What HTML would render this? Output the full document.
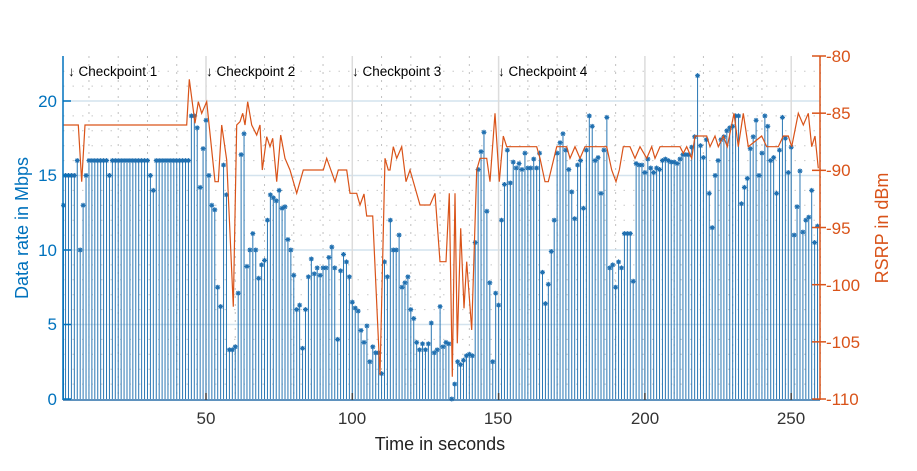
<!DOCTYPE html>
<html><head><meta charset="utf-8"><style>
body{margin:0;background:#fff;}
svg{display:block;font-family:"Liberation Sans",sans-serif;}
</style></head><body>
<svg id="s" width="917" height="471" viewBox="0 0 917 471" xmlns="http://www.w3.org/2000/svg">
<rect x="0" y="0" width="917" height="471" fill="#fff"/>
<g id="grid"></g>
<g id="bars"></g>
<polyline id="rsrp" fill="none" stroke="#d95319" stroke-width="1.2"/>
<g id="axes"></g>
<g font-size="13.5" fill="#000">
<text x="68" y="76">↓ Checkpoint 1</text>
<text x="206" y="76">↓ Checkpoint 2</text>
<text x="352" y="76">↓ Checkpoint 3</text>
<text x="498" y="76">↓ Checkpoint 4</text>
</g>
<g font-size="17" fill="#0072bd" text-anchor="end">
<text x="57" y="405">0</text><text x="57" y="330">5</text><text x="57" y="256">10</text><text x="57" y="181">15</text><text x="57" y="107">20</text>
</g>
<g font-size="17" fill="#333" text-anchor="middle">
<text x="206" y="424">50</text><text x="352" y="424">100</text><text x="498" y="424">150</text><text x="645" y="424">200</text><text x="791" y="424">250</text>
</g>
<g font-size="17" fill="#d95319">
<text x="826" y="62">-80</text><text x="826" y="119">-85</text><text x="826" y="176">-90</text><text x="826" y="234">-95</text><text x="826" y="291">-100</text><text x="826" y="348">-105</text><text x="826" y="405">-110</text>
</g>
<text x="440" y="450" font-size="18" fill="#222" text-anchor="middle">Time in seconds</text>
<text transform="translate(28,228) rotate(-90)" font-size="18" fill="#0072bd" text-anchor="middle">Data rate in Mbps</text>
<text transform="translate(888,228) rotate(-90)" font-size="18" fill="#d95319" text-anchor="middle">RSRP in dBm</text>
</svg>
<script>
var NS="http://www.w3.org/2000/svg";
function el(p,t,a){var e=document.createElementNS(NS,t);for(var k in a)e.setAttribute(k,a[k]);p.appendChild(e);return e;}
function X(t){return 59.7+t*2.926;}
function Y(v){return 399-v*14.9;}
var d=[13,15,15,15,15,16,10,13,15,16,16,16,16,16,16,16,15,16,16,16,16,16,16,16,16,16,16,16,16,16,15,14,16,16,16,16,16,16,16,16,16,16,16,16,19,19,18.2,14.2,16.8,18.7,15,13,12.7,7.5,6.2,15.7,13.7,3.3,3.3,3.5,7.1,16.4,17.8,8.9,10,11.1,10,8.1,9,9.3,12,13.7,13.5,13.3,14,12.8,12.9,10.7,10,8.3,6,6.3,3.4,6,8.2,9.4,8.4,8.8,8.3,8.8,8.8,9.5,10.2,8.8,4,8.6,9.7,9.2,8.2,6.5,6.1,5.9,4.6,3.8,4.9,2.5,3.5,3.1,3.1,1.7,9.2,8.2,12,10,10,11,7.5,7.8,8.2,6,5.4,3.8,3.3,3.7,3.3,3.7,5.1,3.1,3.3,6.2,3.5,3.8,3.7,0,1,2.5,2.3,2.6,2.9,3,2.9,10.5,15.4,16.6,17.9,12.6,7.8,2.5,7.1,6.3,12,14.4,16.7,14.5,15.9,15.5,15.8,15.4,16.5,15.5,15.5,16.1,15.5,16.5,8.5,6.4,7.7,9.9,12,16.5,17.2,17.8,16.7,15.4,13.9,12.1,15.7,16,12.8,16.7,19,18.3,16,16.2,13.8,16.7,18.9,8.8,9,7.5,9.2,8.8,11.1,11.1,11.1,7.9,15.8,15.7,15.7,15.2,16.1,15.5,15.2,15.5,15.4,16,16.1,16,15.9,15.9,15.8,16.1,16.4,16.4,16.4,16.9,17.6,21.7,17,16.2,17.4,13.8,11.5,15,16,17.4,17.6,18,18.2,18.3,19,19,13.1,14.2,14.8,16.8,17.6,18.7,15,16.5,19,18.3,16,16.2,13.8,16.7,18.9,17.5,15.2,16.9,11,12.9,15.3,11.2,12,12.2,14,10.5,11.6];
var g=document.getElementById("grid");
for(var v=1;v<=22;v++){if(v%5)el(g,"line",{x1:63,x2:820,y1:Y(v),y2:Y(v),stroke:"#c8c8c8","stroke-width":1,"stroke-dasharray":"1.5 8"});}
for(var t=10;t<=260;t+=10){if(t%50)el(g,"line",{x1:X(t),x2:X(t),y1:56,y2:400,stroke:"#c0c0c0","stroke-width":1,"stroke-dasharray":"2 6"});}
for(var v=5;v<=20;v+=5)el(g,"line",{x1:63,x2:820,y1:Y(v),y2:Y(v),stroke:"#d4e3ee","stroke-width":1.5});
for(var t=50;t<=250;t+=50)el(g,"line",{x1:X(t),x2:X(t),y1:56,y2:400,stroke:"#dcdcdc","stroke-width":1.5});
var b=document.getElementById("bars");
for(var i=0;i<d.length;i++){var t=i+1;var x=X(t),y=Y(d[i]);
 if(x<63)x=63.5;
 var nx=(i+1<d.length)?Math.min(X(t+1),820):x;
 var top=Math.max(y,Y(d[i+1]||0));
 el(b,"rect",{x:x,y:top,width:Math.max(0,nx-x),height:399-top,fill:"#a9cce8"});
}
for(var i=0;i<d.length;i++){var t=i+1;var x=X(t),y=Y(d[i]);if(x<63)x=63.5;
 el(b,"line",{x1:x,x2:x,y1:399,y2:y,stroke:"#2a77b4","stroke-width":1});
 el(b,"path",{d:"M"+(x-2.5)+" "+y+"h5M"+x+" "+(y-2.5)+"v5M"+(x-1.8)+" "+(y-1.8)+"l3.6 3.6M"+(x+1.8)+" "+(y-1.8)+"l-3.6 3.6",stroke:"#1f6fb0","stroke-width":1.1});
}
var r=[];
function Z(ox,oy,a){for(var i=0;i<a.length;i+=2)r.push([ox+a[i]/3,oy+a[i+1]/3]);}
r.push([63,125]);
Z(60,50,[55,225,65,395,75,225,380,225,388,88,405,220,415,155,425,190,440,155,465,395,475,395,485,225,500,330,520,770,530,225,540,215,548,190,555,225,563,155,575,225,590,255,600,225,607,360,620,260,630,290,638,265,650,395,662,255,675,325,690,360,710,430,730,360,790,360,800,325,825,395,835,360,860,360]);
Z(340,50,[30,430,50,430,60,465,72,432,80,498,98,498,120,975,135,325,145,360,150,360,160,290,170,325,185,290,198,395,210,360,240,465,270,465,285,430,300,635,318,635,328,430,337,980,345,430,352,880,362,535,372,775,380,635,395,840,410,360,420,325,440,325,450,395,465,190,478,395,490,258,500,290,590,290,600,325,615,395,625,395,650,290,680,290,690,325,705,290,720,325,735,290,750,290]);
Z(580,50,[80,290,95,360,108,395,118,360,130,290,150,290,165,325,180,290,200,325,215,290,225,325,240,290,300,290,310,310,320,290,335,325,345,258,380,258,390,290,405,258,415,290,430,258,442,290,462,190,475,290,490,190,505,290,545,258,560,290,595,290,610,258,625,258,635,290,655,190,670,225,685,190,695,290,705,258,715,355]);
document.getElementById("rsrp").setAttribute("points",r.map(function(p){return p[0].toFixed(1)+","+p[1].toFixed(1)}).join(" "));
var a=document.getElementById("axes");
el(a,"line",{x1:63,x2:63,y1:56,y2:400,stroke:"#0072bd","stroke-width":1.5});
el(a,"line",{x1:63,x2:820,y1:400,y2:400,stroke:"#2a6fa8","stroke-width":1.5});
el(a,"line",{x1:820,x2:820,y1:56,y2:400,stroke:"#d95319","stroke-width":1.5});
for(var v=0;v<=20;v+=5)el(a,"line",{x1:63,x2:71,y1:Y(v),y2:Y(v),stroke:"#0072bd","stroke-width":1.5});
for(var k=0;k<=6;k++){var yy=56+k*57.17;el(a,"line",{x1:812,x2:826,y1:yy,y2:yy,stroke:"#d95319","stroke-width":1.5});}
for(var t=50;t<=250;t+=50)el(a,"line",{x1:X(t),x2:X(t),y1:393,y2:400,stroke:"#444","stroke-width":1.5});
</script>
</body></html>
